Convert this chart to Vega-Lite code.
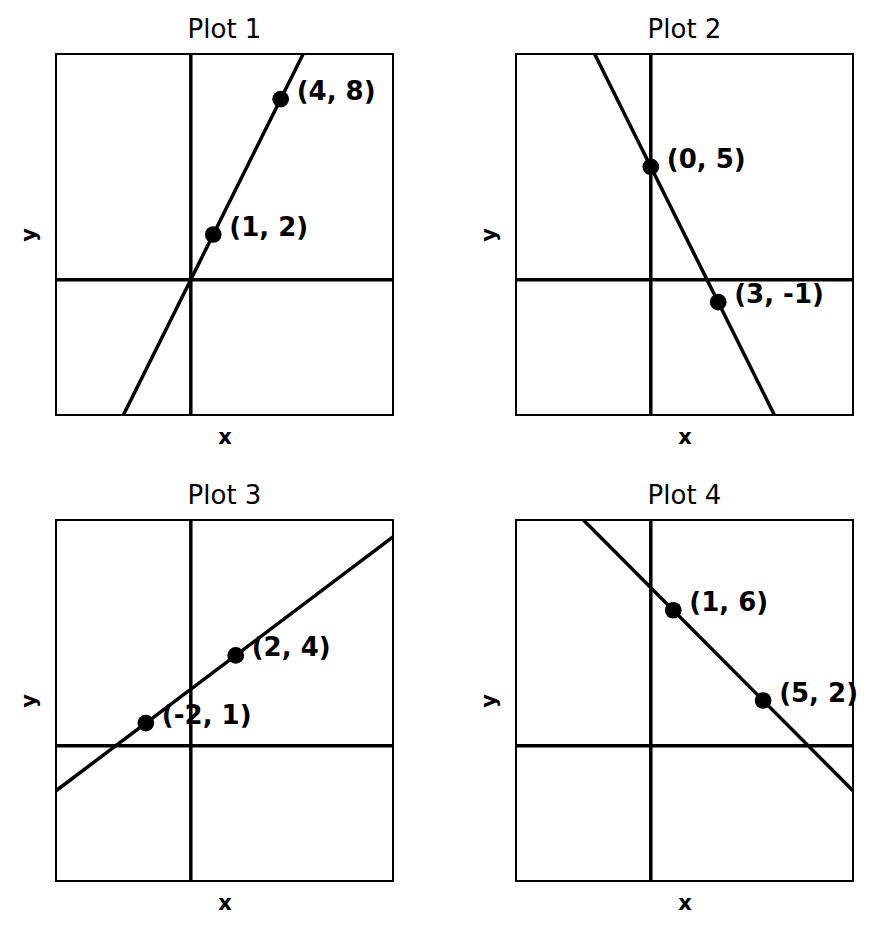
{
  "$schema": "https://vega.github.io/schema/vega-lite/v6.json",
  "padding": {"left": 17, "top": 16, "right": 5, "bottom": 5},
  "background": "white",
  "data": {
    "values": [
      {"plot": "Plot 1", "kind": "origin", "x": 0, "y": 0},
      {"plot": "Plot 2", "kind": "origin", "x": 0, "y": 0},
      {"plot": "Plot 3", "kind": "origin", "x": 0, "y": 0},
      {"plot": "Plot 4", "kind": "origin", "x": 0, "y": 0},
      {"plot": "Plot 1", "kind": "line", "x": -3, "y": -6},
      {"plot": "Plot 1", "kind": "line", "x": 5, "y": 10},
      {"plot": "Plot 2", "kind": "line", "x": -2.5, "y": 10},
      {"plot": "Plot 2", "kind": "line", "x": 5.5, "y": -6},
      {"plot": "Plot 3", "kind": "line", "x": -6, "y": -2},
      {"plot": "Plot 3", "kind": "line", "x": 9, "y": 9.25},
      {"plot": "Plot 4", "kind": "line", "x": -3, "y": 10},
      {"plot": "Plot 4", "kind": "line", "x": 9, "y": -2},
      {"plot": "Plot 1", "kind": "point", "x": 1, "y": 2, "label": "(1, 2)"},
      {"plot": "Plot 1", "kind": "point", "x": 4, "y": 8, "label": "(4, 8)"},
      {"plot": "Plot 2", "kind": "point", "x": 0, "y": 5, "label": "(0, 5)"},
      {"plot": "Plot 2", "kind": "point", "x": 3, "y": -1, "label": "(3, -1)"},
      {"plot": "Plot 3", "kind": "point", "x": -2, "y": 1, "label": "(-2, 1)"},
      {"plot": "Plot 3", "kind": "point", "x": 2, "y": 4, "label": "(2, 4)"},
      {"plot": "Plot 4", "kind": "point", "x": 1, "y": 6, "label": "(1, 6)"},
      {"plot": "Plot 4", "kind": "point", "x": 5, "y": 2, "label": "(5, 2)"}
    ]
  },
  "bounds": "flush",
  "columns": 2,
  "spacing": {"row": 105, "column": 123},
  "concat": [
    {
      "title": "Plot 1",
      "transform": [{"filter": "datum.plot == 'Plot 1'"}],
      "width": 337,
      "height": 361,
      "encoding": {
        "x": {"field": "x", "type": "quantitative", "title": "x", "scale": {"domain": [-6, 9], "nice": false, "zero": false}},
        "y": {"field": "y", "type": "quantitative", "title": "y", "scale": {"domain": [-6, 10], "nice": false, "zero": false}}
      },
      "layer": [
        {"transform": [{"filter": "datum.kind == 'origin'"}], "mark": {"type": "rule", "color": "black", "strokeWidth": 3.5}, "encoding": {"y": null}},
        {"transform": [{"filter": "datum.kind == 'origin'"}], "mark": {"type": "rule", "color": "black", "strokeWidth": 3.5}, "encoding": {"x": null}},
        {"transform": [{"filter": "datum.kind == 'line'"}], "mark": {"type": "line", "color": "black", "strokeWidth": 3.5, "strokeJoin": "round"}},
        {"transform": [{"filter": "datum.kind == 'point'"}], "mark": {"type": "circle", "color": "black", "opacity": 1, "size": 280}},
        {"transform": [{"filter": "datum.kind == 'point'"}], "mark": {"type": "text", "align": "left", "baseline": "middle", "dx": 16, "dy": -7, "fontWeight": "bold", "fontSize": 26, "color": "black"}, "encoding": {"text": {"field": "label"}}}
      ]
    },
    {
      "title": "Plot 2",
      "transform": [{"filter": "datum.plot == 'Plot 2'"}],
      "width": 337,
      "height": 361,
      "encoding": {
        "x": {"field": "x", "type": "quantitative", "title": "x", "scale": {"domain": [-6, 9], "nice": false, "zero": false}},
        "y": {"field": "y", "type": "quantitative", "title": "y", "scale": {"domain": [-6, 10], "nice": false, "zero": false}}
      },
      "layer": [
        {"transform": [{"filter": "datum.kind == 'origin'"}], "mark": {"type": "rule", "color": "black", "strokeWidth": 3.5}, "encoding": {"y": null}},
        {"transform": [{"filter": "datum.kind == 'origin'"}], "mark": {"type": "rule", "color": "black", "strokeWidth": 3.5}, "encoding": {"x": null}},
        {"transform": [{"filter": "datum.kind == 'line'"}], "mark": {"type": "line", "color": "black", "strokeWidth": 3.5, "strokeJoin": "round"}},
        {"transform": [{"filter": "datum.kind == 'point'"}], "mark": {"type": "circle", "color": "black", "opacity": 1, "size": 280}},
        {"transform": [{"filter": "datum.kind == 'point'"}], "mark": {"type": "text", "align": "left", "baseline": "middle", "dx": 16, "dy": -7, "fontWeight": "bold", "fontSize": 26, "color": "black"}, "encoding": {"text": {"field": "label"}}}
      ]
    },
    {
      "title": "Plot 3",
      "transform": [{"filter": "datum.plot == 'Plot 3'"}],
      "width": 337,
      "height": 361,
      "encoding": {
        "x": {"field": "x", "type": "quantitative", "title": "x", "scale": {"domain": [-6, 9], "nice": false, "zero": false}},
        "y": {"field": "y", "type": "quantitative", "title": "y", "scale": {"domain": [-6, 10], "nice": false, "zero": false}}
      },
      "layer": [
        {"transform": [{"filter": "datum.kind == 'origin'"}], "mark": {"type": "rule", "color": "black", "strokeWidth": 3.5}, "encoding": {"y": null}},
        {"transform": [{"filter": "datum.kind == 'origin'"}], "mark": {"type": "rule", "color": "black", "strokeWidth": 3.5}, "encoding": {"x": null}},
        {"transform": [{"filter": "datum.kind == 'line'"}], "mark": {"type": "line", "color": "black", "strokeWidth": 3.5, "strokeJoin": "round"}},
        {"transform": [{"filter": "datum.kind == 'point'"}], "mark": {"type": "circle", "color": "black", "opacity": 1, "size": 280}},
        {"transform": [{"filter": "datum.kind == 'point'"}], "mark": {"type": "text", "align": "left", "baseline": "middle", "dx": 16, "dy": -7, "fontWeight": "bold", "fontSize": 26, "color": "black"}, "encoding": {"text": {"field": "label"}}}
      ]
    },
    {
      "title": "Plot 4",
      "transform": [{"filter": "datum.plot == 'Plot 4'"}],
      "width": 337,
      "height": 361,
      "encoding": {
        "x": {"field": "x", "type": "quantitative", "title": "x", "scale": {"domain": [-6, 9], "nice": false, "zero": false}},
        "y": {"field": "y", "type": "quantitative", "title": "y", "scale": {"domain": [-6, 10], "nice": false, "zero": false}}
      },
      "layer": [
        {"transform": [{"filter": "datum.kind == 'origin'"}], "mark": {"type": "rule", "color": "black", "strokeWidth": 3.5}, "encoding": {"y": null}},
        {"transform": [{"filter": "datum.kind == 'origin'"}], "mark": {"type": "rule", "color": "black", "strokeWidth": 3.5}, "encoding": {"x": null}},
        {"transform": [{"filter": "datum.kind == 'line'"}], "mark": {"type": "line", "color": "black", "strokeWidth": 3.5, "strokeJoin": "round"}},
        {"transform": [{"filter": "datum.kind == 'point'"}], "mark": {"type": "circle", "color": "black", "opacity": 1, "size": 280}},
        {"transform": [{"filter": "datum.kind == 'point'"}], "mark": {"type": "text", "align": "left", "baseline": "middle", "dx": 16, "dy": -7, "fontWeight": "bold", "fontSize": 26, "color": "black"}, "encoding": {"text": {"field": "label"}}}
      ]
    }
  ],
  "config": {
    "font": "DejaVu Sans",
    "view": {"stroke": "black", "strokeWidth": 2},
    "axis": {
      "domain": false,
      "ticks": false,
      "labels": false,
      "grid": false,
      "titleFont": "DejaVu Sans",
      "titleFontSize": 21,
      "titleFontWeight": "bold",
      "titleColor": "black"
    },
    "axisX": {"titlePadding": 11},
    "axisY": {"titlePadding": 17},
    "title": {
      "font": "DejaVu Sans",
      "fontSize": 26,
      "fontWeight": "normal",
      "color": "black",
      "anchor": "middle",
      "frame": "group",
      "offset": 9
    }
  }
}
